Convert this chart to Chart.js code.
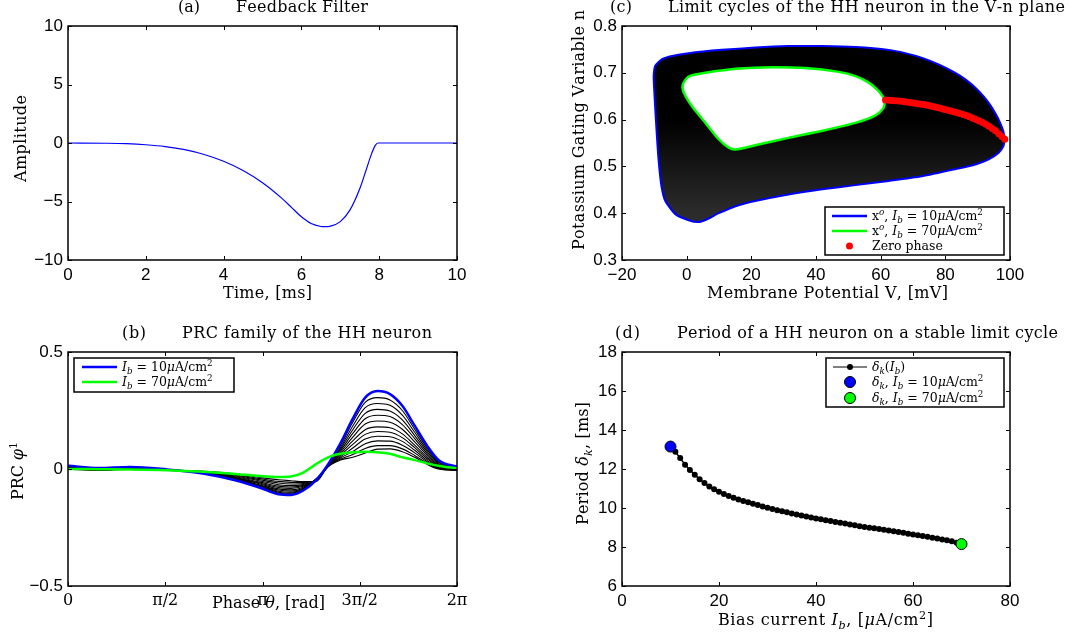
<!DOCTYPE html>
<html>
<head>
<meta charset="utf-8">
<script src="https://cdn.jsdelivr.net/npm/chart.js@4.4.0/dist/chart.umd.min.js"></script>
<style>
html, body { margin: 0; padding: 0; background: #fff; }
#wrap { position: relative; width: 1069px; height: 638px; }
canvas { position: absolute; }
</style>
</head>
<body>
<div id="wrap">
  <canvas id="cA" width="534" height="319" style="left:0;top:0;width:534px;height:319px"></canvas>
  <canvas id="cC" width="535" height="319" style="left:534px;top:0;width:535px;height:319px"></canvas>
  <canvas id="cB" width="534" height="319" style="left:0;top:319px;width:534px;height:319px"></canvas>
  <canvas id="cD" width="535" height="319" style="left:534px;top:319px;width:535px;height:319px"></canvas>
</div>
<script>
// (a) feedback filter
const filterTime = [0, 1, 1.5, 2, 2.5, 3, 3.5, 4, 4.5, 5, 5.5, 5.75, 6, 6.25, 6.5, 6.6, 6.75, 7, 7.25, 7.5, 7.65, 7.8, 7.9, 7.97, 10];
const filterAmp = [0, -0.02, -0.06, -0.15, -0.305, -0.57, -0.98, -1.56, -2.35, -3.39, -4.73, -5.52, -6.31, -6.885, -7.135, -7.155, -7.11, -6.72, -5.72, -3.91, -2.45, -0.95, -0.2, 0, 0];

// (c) limit cycles in the V-n plane
const outerV = [98.4, 97.9, 96.9, 95.5, 93.8, 91.9, 89.3, 86.2, 83.1, 77.9, 72.8, 67.6, 62.5, 52.2, 41.9, 31.5, 21.2, 10.9, 0.6, -4.5, -7.6, -9.7, -10.2, -10.0, -9.4, -8.7, -7.8, -6.6, -3.5, 0.6, 3.7, 6.3, 9.9, 15.1, 21.2, 31.5, 41.9, 52.2, 62.5, 72.8, 83.1, 89.3, 93.4, 96.5, 98.0, 98.4];
const outerN = [0.558, 0.576, 0.594, 0.613, 0.632, 0.649, 0.668, 0.686, 0.700, 0.718, 0.732, 0.742, 0.749, 0.755, 0.757, 0.757, 0.754, 0.749, 0.742, 0.736, 0.729, 0.715, 0.693, 0.658, 0.586, 0.515, 0.458, 0.426, 0.398, 0.385, 0.381, 0.387, 0.400, 0.415, 0.426, 0.440, 0.451, 0.460, 0.469, 0.479, 0.494, 0.504, 0.515, 0.529, 0.544, 0.558];
const innerV = [61.4, 59.4, 56.3, 52.2, 47.0, 36.7, 26.4, 16.1, 5.8, 0.6, -1.2, -0.9, 1.6, 5.8, 9.9, 13.0, 15.1, 21.2, 31.5, 41.9, 52.2, 58.4, 60.9, 61.4];
const innerN = [0.642, 0.661, 0.679, 0.693, 0.702, 0.710, 0.712, 0.709, 0.700, 0.692, 0.675, 0.658, 0.629, 0.593, 0.558, 0.540, 0.536, 0.545, 0.561, 0.576, 0.593, 0.609, 0.625, 0.642];
const zeroV = [61.5, 62.5, 63.5, 64.5, 65.5, 66.5, 67.5, 68.5, 69.5, 70.5, 71.5, 72.5, 73.5, 74.5, 75.5, 76.5, 77.5, 78.5, 79.5, 80.5, 81.5, 82.5, 83.5, 84.5, 85.5, 86.5, 87.5, 88.5, 89.5, 90.5, 91.5, 92.5, 93.5, 94.5, 95.5, 96.5, 97.5, 98.4];
const zeroN = [0.642, 0.6415, 0.641, 0.6405, 0.640, 0.639, 0.638, 0.637, 0.636, 0.635, 0.634, 0.633, 0.632, 0.6305, 0.629, 0.6275, 0.626, 0.624, 0.622, 0.6205, 0.619, 0.617, 0.615, 0.613, 0.611, 0.6085, 0.606, 0.603, 0.600, 0.597, 0.594, 0.590, 0.586, 0.581, 0.576, 0.570, 0.564, 0.558];

// (b) PRC family
const prcTheta = [0, 0.5, 1.0, 1.6, 2.2, 2.7, 3.1, 3.4, 3.6, 3.8, 4.0, 4.2, 4.4, 4.6, 4.8, 5.0, 5.2, 5.4, 5.6, 5.8, 6.0, 6.283];
const prcBlue = [0.014, 0.004, 0.009, -0.002, -0.02, -0.048, -0.08, -0.108, -0.111, -0.092, -0.05, 0.02, 0.11, 0.215, 0.305, 0.333, 0.32, 0.27, 0.185, 0.1, 0.035, 0.01];
const prcGreen = [0.0, -0.001, -0.002, -0.005, -0.012, -0.021, -0.03, -0.034, -0.032, -0.015, 0.02, 0.05, 0.065, 0.072, 0.074, 0.072, 0.065, 0.05, 0.038, 0.024, 0.013, 0.003];
const prcFamily = [
  [0.012, 0.003, 0.008, -0.002, -0.019, -0.046, -0.077, -0.103, -0.107, -0.09, -0.05, 0.018, 0.1, 0.2, 0.285, 0.305, 0.295, 0.25, 0.17, 0.09, 0.03, 0.007],
  [0.010, 0.002, 0.007, -0.003, -0.018, -0.044, -0.074, -0.099, -0.103, -0.088, -0.048, 0.016, 0.092, 0.184, 0.262, 0.28, 0.272, 0.23, 0.157, 0.082, 0.026, 0.004],
  [0.008, 0.001, 0.006, -0.003, -0.018, -0.042, -0.071, -0.095, -0.099, -0.085, -0.046, 0.014, 0.085, 0.168, 0.238, 0.255, 0.248, 0.21, 0.143, 0.074, 0.022, 0.002],
  [0.007, 0.0, 0.005, -0.003, -0.017, -0.04, -0.068, -0.09, -0.094, -0.082, -0.045, 0.013, 0.078, 0.152, 0.215, 0.23, 0.224, 0.19, 0.13, 0.066, 0.018, 0.0],
  [0.005, -0.001, 0.004, -0.004, -0.016, -0.038, -0.064, -0.085, -0.089, -0.078, -0.045, 0.012, 0.071, 0.136, 0.192, 0.205, 0.2, 0.17, 0.116, 0.058, 0.014, -0.001],
  [0.004, -0.002, 0.003, -0.004, -0.015, -0.036, -0.06, -0.079, -0.083, -0.074, -0.046, 0.011, 0.064, 0.12, 0.168, 0.18, 0.176, 0.15, 0.102, 0.05, 0.011, -0.002],
  [0.003, -0.003, 0.002, -0.004, -0.014, -0.033, -0.056, -0.073, -0.077, -0.07, -0.047, 0.01, 0.058, 0.105, 0.148, 0.16, 0.157, 0.134, 0.091, 0.044, 0.008, -0.003],
  [0.002, -0.003, 0.001, -0.005, -0.013, -0.03, -0.051, -0.067, -0.071, -0.066, -0.048, 0.01, 0.052, 0.09, 0.128, 0.14, 0.138, 0.118, 0.08, 0.037, 0.005, -0.004],
  [0.001, -0.004, 0.0, -0.005, -0.012, -0.027, -0.046, -0.06, -0.064, -0.062, -0.05, 0.01, 0.047, 0.075, 0.108, 0.12, 0.119, 0.102, 0.069, 0.031, 0.003, -0.005],
  [0.0, -0.004, -0.001, -0.005, -0.011, -0.024, -0.041, -0.053, -0.057, -0.058, -0.052, 0.01, 0.042, 0.062, 0.088, 0.1, 0.1, 0.086, 0.058, 0.025, 0.001, -0.005],
  [-0.001, -0.005, -0.002, -0.005, -0.01, -0.021, -0.036, -0.046, -0.05, -0.054, -0.054, 0.01, 0.038, 0.05, 0.068, 0.085, 0.086, 0.074, 0.05, 0.02, -0.001, -0.006]
];
const prcTickValues = [0, Math.PI / 2, Math.PI, 3 * Math.PI / 2, 2 * Math.PI];
const prcTickLabels = ['0', 'π/2', 'π', '3π/2', '2π'];

// (d) period vs bias current
const biasCurrent = [10, 11, 12, 13, 14, 15, 16, 17, 18, 19, 20, 21, 22, 23, 24, 25, 26, 27, 28, 29, 30, 31, 32, 33, 34, 35, 36, 37, 38, 39, 40, 41, 42, 43, 44, 45, 46, 47, 48, 49, 50, 51, 52, 53, 54, 55, 56, 57, 58, 59, 60, 61, 62, 63, 64, 65, 66, 67, 68, 69, 70];
const period = [13.18, 12.88, 12.56, 12.22, 11.95, 11.70, 11.48, 11.28, 11.10, 10.96, 10.83, 10.72, 10.61, 10.52, 10.44, 10.36, 10.29, 10.22, 10.15, 10.08, 10.01, 9.95, 9.89, 9.83, 9.78, 9.72, 9.67, 9.61, 9.56, 9.51, 9.46, 9.42, 9.37, 9.33, 9.28, 9.24, 9.20, 9.16, 9.11, 9.07, 9.03, 8.99, 8.96, 8.92, 8.89, 8.85, 8.81, 8.77, 8.73, 8.68, 8.64, 8.60, 8.56, 8.52, 8.47, 8.43, 8.39, 8.34, 8.29, 8.22, 8.15];
const markerCurrent = [10, 70];
const markerPeriod = [13.15, 8.15];

const SANS = '"Liberation Sans", Arial, sans-serif';
const SERIF = '"DejaVu Serif", serif';
const BLUE = '#0000ff', GREEN = '#00ff00', RED = '#ff0000';

const pts = (xs, ys) => xs.map((x, i) => ({ x: x, y: ys[i] }));
const fmtTick = v => String(Math.round(v * 1000) / 1000).replace('-', '\u2212');

// text with italics / sub- and superscripts, optionally stretched to a width
function drawRich(ctx, t) {
  const size = t.size || 16;
  const parts = [];
  t.segs.forEach(([txt, f]) => {
    const small = f.includes('_') || f.includes('^');
    const font = (f.includes('i') ? 'italic ' : '') + (small ? size * 0.7 : size) + 'px ' + SERIF;
    const dy = f.includes('_') ? size * 0.25 : f.includes('^') ? -size * 0.4 : 0;
    for (const ch of txt) parts.push({ ch: ch, font: font, dy: dy });
  });
  let natural = 0;
  parts.forEach(p => { ctx.font = p.font; p.w = ctx.measureText(p.ch).width; natural += p.w; });
  const sp = t.w ? (t.w - natural) / Math.max(parts.length - 1, 1) : 0;
  ctx.save();
  ctx.translate(t.x, t.y);
  if (t.rot) ctx.rotate(-Math.PI / 2);
  ctx.textBaseline = 'alphabetic';
  ctx.textAlign = 'left';
  ctx.fillStyle = '#000';
  let cx = 0;
  parts.forEach(p => { ctx.font = p.font; ctx.fillText(p.ch, cx, p.dy); cx += p.w + sp; });
  ctx.restore();
}

function drawLegend(ctx, L) {
  const [x1, y1, x2, y2] = L.box;
  ctx.fillStyle = '#fff';
  ctx.fillRect(x1, y1, x2 - x1, y2 - y1);
  ctx.strokeStyle = '#000';
  ctx.lineWidth = 1.5;
  ctx.strokeRect(x1, y1, x2 - x1, y2 - y1);
  L.rows.forEach(r => {
    if (r.line) {
      ctx.strokeStyle = r.line;
      ctx.lineWidth = r.lw || 2.5;
      ctx.beginPath(); ctx.moveTo(L.s1, r.y); ctx.lineTo(L.s2, r.y); ctx.stroke();
    }
    if (r.dot) {
      ctx.fillStyle = r.dot;
      ctx.beginPath(); ctx.arc((L.s1 + L.s2) / 2, r.y, r.dr, 0, 2 * Math.PI); ctx.fill();
      if (r.ring) { ctx.strokeStyle = '#000'; ctx.lineWidth = 1; ctx.stroke(); }
    }
    drawRich(ctx, { segs: r.segs, x: L.tx, y: r.y + 4, size: L.size });
  });
}

// box, inward ticks, titles and legend
const decor = {
  id: 'decor',
  afterDraw(chart, args, opts) {
    const ctx = chart.ctx, a = chart.chartArea;
    const xs = chart.scales.x, ys = chart.scales.y;
    ctx.save();
    ctx.strokeStyle = '#000';
    ctx.lineWidth = 1;
    ctx.beginPath();
    xs.ticks.forEach(t => {
      const p = Math.round(xs.getPixelForValue(t.value)) + 0.5;
      ctx.moveTo(p, a.bottom); ctx.lineTo(p, a.bottom - 4);
      ctx.moveTo(p, a.top); ctx.lineTo(p, a.top + 4);
    });
    ys.ticks.forEach(t => {
      const p = Math.round(ys.getPixelForValue(t.value)) + 0.5;
      ctx.moveTo(a.left, p); ctx.lineTo(a.left + 4, p);
      ctx.moveTo(a.right, p); ctx.lineTo(a.right - 4, p);
    });
    ctx.stroke();
    ctx.lineWidth = 1.5;
    ctx.strokeRect(a.left, a.top, a.right - a.left, a.bottom - a.top);
    ctx.translate(-opts.ox, -opts.oy);
    opts.texts.forEach(t => drawRich(ctx, t));
    if (opts.legend) drawLegend(ctx, opts.legend);
    ctx.restore();
  }
};

function linAxis(min, max, step, size, extra) {
  return Object.assign({
    type: 'linear', min: min, max: max,
    grid: { display: false, drawTicks: false },
    border: { display: false },
    ticks: { stepSize: step, autoSkip: false, maxRotation: 0, color: '#000', font: { family: SANS, size: 17 }, padding: 5, callback: v => fmtTick(v) },
    afterFit: s => { if (s.isHorizontal()) s.height = size; else s.width = size; }
  }, extra || {});
}

function makeChart(id, pad, xAxis, yAxis, datasets, decorOpts) {
  return new Chart(document.getElementById(id), {
    type: 'scatter',
    data: { datasets: datasets },
    options: {
      responsive: false,
      animation: false,
      events: [],
      layout: { padding: pad },
      scales: { x: xAxis, y: yAxis },
      plugins: { legend: { display: false }, tooltip: { enabled: false }, decor: decorOpts }
    },
    plugins: [decor]
  });
}

// ring fill: solid on top, the dense lower trajectories read slightly lighter
function ringFill(c) {
  const ch = c.chart, ys = ch.scales.y;
  if (!ys || !ch.chartArea) return '#000';
  const g = ch.ctx.createLinearGradient(0, ys.getPixelForValue(0.6), 0, ys.getPixelForValue(0.4));
  g.addColorStop(0, '#000');
  g.addColorStop(1, '#2c2c2c');
  return g;
}

const ib10 = [['I', 'i'], ['b', '_i'], [' = 10', ''], ['μ', 'i'], ['A/cm', ''], ['2', '^']];
const ib70 = [['I', 'i'], ['b', '_i'], [' = 70', ''], ['μ', 'i'], ['A/cm', ''], ['2', '^']];

// (a)
makeChart('cA', { left: 0, top: 26, right: 77, bottom: 0 },
  linAxis(0, 10, 2, 59), linAxis(-10, 10, 5, 68),
  [{ data: pts(filterTime, filterAmp), showLine: true, borderColor: BLUE, borderWidth: 1.2, pointRadius: 0, cubicInterpolationMode: 'monotone', fill: false }],
  { ox: 0, oy: 0, texts: [
    { segs: [['(a)', '']], x: 178, y: 12, w: 22 },
    { segs: [['Feedback Filter', '']], x: 236, y: 12, w: 132 },
    { segs: [['Time, [ms]', '']], x: 223, y: 298, w: 89 },
    { segs: [['Amplitude', '']], x: 26, y: 182, w: 87, rot: true }
  ] });

// (c)
makeChart('cC', { left: 0, top: 26, right: 59, bottom: 0 },
  linAxis(-20, 100, 20, 59), linAxis(0.3, 0.8, 0.1, 88),
  [
    { data: pts(zeroV, zeroN), showLine: false, pointRadius: 3.5, pointBackgroundColor: RED, pointBorderWidth: 0 },
    { data: pts(innerV, innerN), showLine: true, borderColor: GREEN, borderWidth: 2.5, pointRadius: 0, tension: 0.25, fill: 'shape', backgroundColor: '#fff' },
    { data: pts(outerV, outerN), showLine: true, borderColor: BLUE, borderWidth: 2, pointRadius: 0, tension: 0.2, fill: 'shape', backgroundColor: ringFill }
  ],
  { ox: 534, oy: 0, texts: [
    { segs: [['(c)', '']], x: 610, y: 12, w: 22 },
    { segs: [['Limit cycles of the HH neuron in the V-n plane', '']], x: 668, y: 12, w: 397 },
    { segs: [['Membrane Potential V, [mV]', '']], x: 707, y: 298, w: 241 },
    { segs: [['Potassium Gating Variable n', '']], x: 584, y: 250, w: 240, rot: true }
  ], legend: { box: [825, 207, 1004, 255], s1: 832, s2: 867, tx: 872, size: 12.5, rows: [
    { y: 216, line: BLUE, segs: [['x', ''], ['o', '^i'], [', ', '']].concat(ib10) },
    { y: 231, line: GREEN, segs: [['x', ''], ['o', '^i'], [', ', '']].concat(ib70) },
    { y: 246, dot: RED, dr: 3.5, segs: [['Zero phase', '']] }
  ] } });

// (b)
const prcSets = [
  { data: pts(prcTheta, prcGreen), showLine: true, borderColor: GREEN, borderWidth: 2.5, pointRadius: 0, cubicInterpolationMode: 'monotone' },
  { data: pts(prcTheta, prcBlue), showLine: true, borderColor: BLUE, borderWidth: 2.5, pointRadius: 0, cubicInterpolationMode: 'monotone' }
].concat(prcFamily.map(c => ({ data: pts(prcTheta, c), showLine: true, borderColor: '#000', borderWidth: 1.1, pointRadius: 0, cubicInterpolationMode: 'monotone' })));
const prcX = linAxis(0, 2 * Math.PI, 1, 52, {
  afterBuildTicks: s => { s.ticks = prcTickValues.map(v => ({ value: v })); }
});
prcX.ticks = Object.assign({}, prcX.ticks, { font: { family: SERIF, size: 16 }, callback: (v, i) => prcTickLabels[i] });
makeChart('cB', { left: 0, top: 33, right: 77, bottom: 0 },
  prcX, linAxis(-0.5, 0.5, 0.5, 68), prcSets,
  { ox: 0, oy: 319, texts: [
    { segs: [['(b)', '']], x: 122, y: 338, w: 24 },
    { segs: [['PRC family of the HH neuron', '']], x: 182, y: 338, w: 250 },
    { segs: [['Phase ', ''], ['θ', 'i'], [', [rad]', '']], x: 212, y: 608, w: 113 },
    { segs: [['PRC ', ''], ['φ', 'i'], ['1', '^']], x: 23, y: 500, w: 58, rot: true }
  ], legend: { box: [74, 358, 234, 392], s1: 82, s2: 117, tx: 122, size: 12.5, rows: [
    { y: 367, line: BLUE, segs: ib10 },
    { y: 382, line: GREEN, segs: ib70 }
  ] } });

// (d)
makeChart('cD', { left: 0, top: 33, right: 59, bottom: 0 },
  linAxis(0, 80, 20, 52), linAxis(6, 18, 2, 88),
  [
    { data: [{ x: markerCurrent[0], y: markerPeriod[0] }], pointRadius: 5.5, pointBackgroundColor: BLUE, pointBorderColor: '#000', pointBorderWidth: 1 },
    { data: [{ x: markerCurrent[1], y: markerPeriod[1] }], pointRadius: 5.5, pointBackgroundColor: GREEN, pointBorderColor: '#000', pointBorderWidth: 1 },
    { data: pts(biasCurrent, period), showLine: true, borderColor: '#000', borderWidth: 1.5, pointRadius: 3, pointBackgroundColor: '#000', pointBorderWidth: 0 }
  ],
  { ox: 534, oy: 319, texts: [
    { segs: [['(d)', '']], x: 615, y: 338, w: 25 },
    { segs: [['Period of a HH neuron on a stable limit cycle', '']], x: 677, y: 338, w: 381 },
    { segs: [['Bias current ', ''], ['I', 'i'], ['b', '_i'], [', [', ''], ['μ', 'i'], ['A/cm', ''], ['2', '^'], [']', '']], x: 718, y: 625, w: 215 },
    { segs: [['Period ', ''], ['δ', 'i'], ['k', '_i'], [', [ms]', '']], x: 588, y: 525, w: 123, rot: true }
  ], legend: { box: [826, 358, 1004, 407], s1: 833, s2: 867, tx: 872, size: 12.5, rows: [
    { y: 367, line: '#000', lw: 1, dot: '#000', dr: 3, segs: [['δ', 'i'], ['k', '_i'], ['(', ''], ['I', 'i'], ['b', '_i'], [')', '']] },
    { y: 382, dot: BLUE, dr: 5.5, ring: true, segs: [['δ', 'i'], ['k', '_i'], [', ', '']].concat(ib10) },
    { y: 398, dot: GREEN, dr: 5.5, ring: true, segs: [['δ', 'i'], ['k', '_i'], [', ', '']].concat(ib70) }
  ] } });
</script>
</body>
</html>
